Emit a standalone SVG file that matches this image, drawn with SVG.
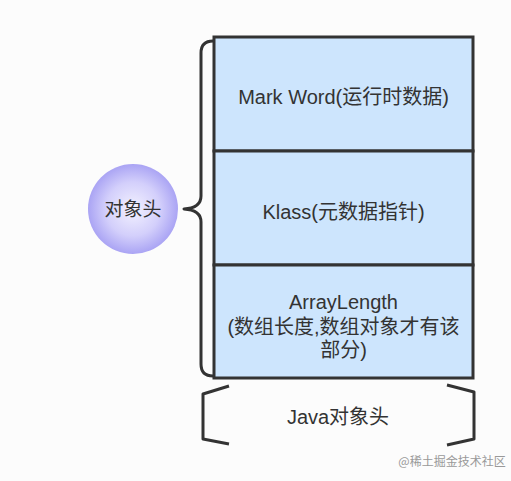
<svg xmlns="http://www.w3.org/2000/svg" width="511" height="481" viewBox="0 0 511 481">
<defs>
<radialGradient id="ball" cx="50%" cy="50%" r="50%">
<stop offset="0" stop-color="#f3f2ff"/>
<stop offset="0.6" stop-color="#d3cffb"/>
<stop offset="1" stop-color="#aaa4f4"/>
</radialGradient>
<style>
.t{font-family:"Liberation Sans","Noto Sans CJK SC",sans-serif;font-size:20px;fill:#333;text-anchor:middle}
.cell{fill:#cde5fd;stroke:#333;stroke-width:3}
.br{fill:none;stroke:#333;stroke-width:3;stroke-linejoin:round;stroke-linecap:butt}
</style>
</defs>
<rect width="511" height="481" fill="#fcfcfc"/>
<g id="head">
<circle cx="133" cy="209" r="45" fill="url(#ball)"/>
<text class="t" x="133" y="216" style="font-size:19px">对象头</text>
</g>
<g id="connectors">
<path class="br" d="M213,41 Q201,41 201,53 L201,196 Q201,208 184,209 Q201,210 201,222 L201,364 Q201,376 213,376"/>
</g>
<g id="markword">
<rect class="cell" x="214" y="37" width="259" height="114"/>
<text class="t" x="343.5" y="104">Mark Word(运行时数据)</text>
</g>
<g id="klass">
<rect class="cell" x="214" y="151" width="259" height="114"/>
<text class="t" x="343.5" y="219">Klass(元数据指针)</text>
</g>
<g id="arraylength">
<rect class="cell" x="214" y="265" width="259" height="113"/>
<text class="t" x="343.5" y="309">ArrayLength</text>
<text class="t" x="343.5" y="334">(数组长度,数组对象才有该</text>
<text class="t" x="343.5" y="357">部分)</text>
</g>
<g id="java">
<path class="br" d="M229,386 L203,394 L203,439 L229,444"/>
<path class="br" d="M447,385 L474,392 L474,439 L447,445"/>
<text class="t" x="338" y="424">Java对象头</text>
</g>
<text x="452" y="466" style="font-family:'Noto Sans CJK SC',sans-serif;font-size:12px;fill:#999;text-anchor:middle">@稀土掘金技术社区</text>
</svg>
